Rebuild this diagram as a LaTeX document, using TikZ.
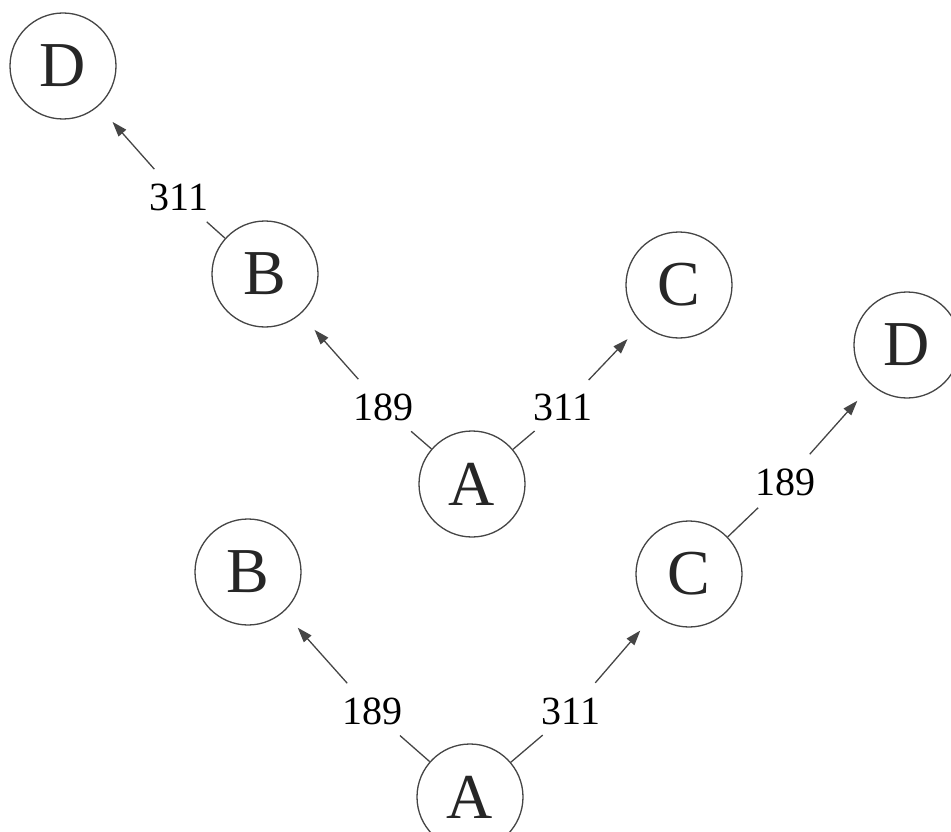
\documentclass[tikz,border=0pt]{standalone}
\usepackage{fontspec}
\setmainfont{Liberation Serif}
\usetikzlibrary{arrows.meta}
\definecolor{ink}{HTML}{454545}
\definecolor{letter}{HTML}{262626}
\begin{document}
\begin{tikzpicture}[x=1pt,y=-1pt,
  state/.style={circle,draw=ink,line width=1.3pt,minimum size=106pt,inner sep=0pt,
    font=\fontsize{64}{64}\selectfont,text=letter},
  wlabel/.style={circle,inner sep=0pt,minimum size=74pt,font=\fontsize{40}{40}\selectfont},
  seg/.style={draw=ink,line width=1.3pt},
  arr/.style={seg,-{Triangle[length=15pt,width=10pt]},shorten >=21pt}]
\useasboundingbox (0,0) rectangle (951,832);
% nodes
\node[state] (D1) at (63,66) {D};
\node[state] (B1) at (265,274) {B};
\node[state] (C1) at (679,285) {C};
\node[state] (A1) at (472,484) {A};
\node[state] (D2) at (907,345) {D};
\node[state] (B2) at (248,572) {B};
\node[state] (C2) at (689,574) {C};
\node[state] (A2) at (470,797) {A};
% labels
\node[wlabel] (l1) at (179,197) {311};
\node[wlabel] (l2) at (383,407) {189};
\node[wlabel] (l3) at (563,407) {311};
\node[wlabel] (l4) at (785,482) {189};
\node[wlabel] (l5) at (372,711) {189};
\node[wlabel] (l6) at (571,711) {311};
% edges
\draw[seg] (B1) -- (l1); \draw[arr] (l1) -- (D1);
\draw[seg] (A1) -- (l2); \draw[arr] (l2) -- (B1);
\draw[seg] (A1) -- (l3); \draw[arr] (l3) -- (C1);
\draw[seg] (C2) -- (l4); \draw[arr] (l4) -- (D2);
\draw[seg] (A2) -- (l5); \draw[arr] (l5) -- (B2);
\draw[seg] (A2) -- (l6); \draw[arr] (l6) -- (C2);
\end{tikzpicture}
\end{document}
